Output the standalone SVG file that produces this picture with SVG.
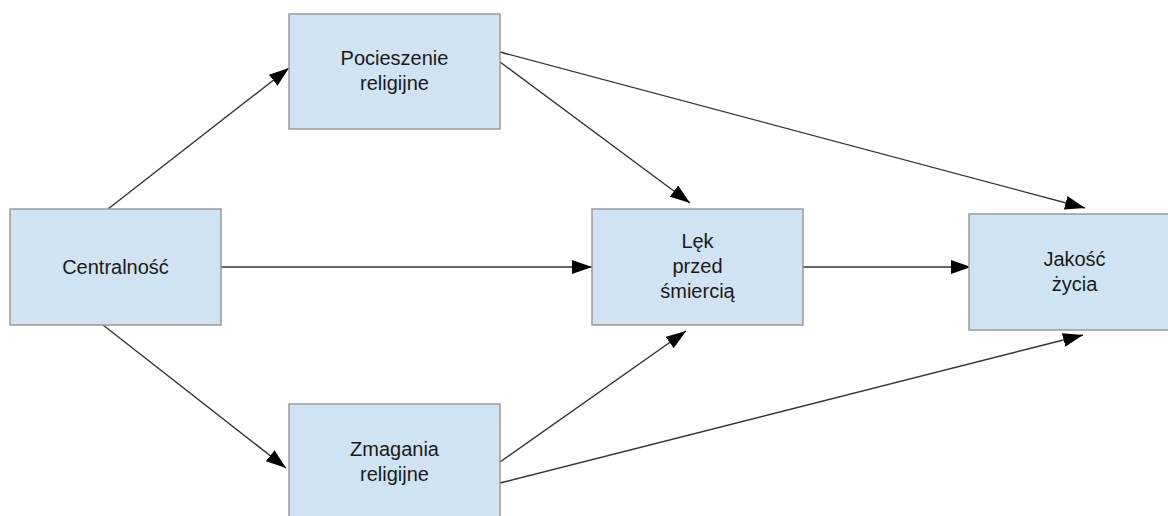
<svg xmlns="http://www.w3.org/2000/svg" width="1168" height="516" viewBox="0 0 1168 516">
  <style>
    .box { fill: #cfe3f2; stroke: #9a9a9a; stroke-width: 1.5; }
    .lbl { font-family: "Liberation Sans", Arial, sans-serif; font-size: 20px; fill: #1a1a1a; text-anchor: middle; }
    .edge { stroke: #333; stroke-width: 1.4; fill: none; marker-end: url(#arrow); }
  </style>
  <defs>
    <marker id="arrow" markerUnits="userSpaceOnUse" markerWidth="20" markerHeight="14" refX="20" refY="7" orient="auto">
      <path d="M0,0 L20,7 L0,14 z" fill="#000"/>
    </marker>
  </defs>
  <rect width="1168" height="516" fill="#fff"/>

  <g id="connectors">
    <line class="edge" x1="108" y1="209" x2="289" y2="68"/>
    <line class="edge" x1="221" y1="267" x2="592" y2="267"/>
    <line class="edge" x1="103" y1="325" x2="286" y2="468"/>
    <line class="edge" x1="500" y1="62" x2="690" y2="203"/>
    <line class="edge" x1="500" y1="52" x2="1085" y2="208"/>
    <line class="edge" x1="803" y1="267" x2="971" y2="267"/>
    <line class="edge" x1="500" y1="462" x2="686" y2="331"/>
    <line class="edge" x1="500" y1="483" x2="1083" y2="335"/>
  </g>

  <g id="centralnosc">
    <rect class="box" x="10" y="209" width="211" height="116"/>
    <text class="lbl" x="115.5" y="274">Centralność</text>
  </g>
  <g id="pocieszenie">
    <rect class="box" x="289" y="14" width="211" height="115"/>
    <text class="lbl" x="394.5" y="65">Pocieszenie</text>
    <text class="lbl" x="394.5" y="90">religijne</text>
  </g>
  <g id="zmagania">
    <rect class="box" x="289" y="404" width="211" height="125"/>
    <text class="lbl" x="394.5" y="456">Zmagania</text>
    <text class="lbl" x="394.5" y="481">religijne</text>
  </g>
  <g id="lek">
    <rect class="box" x="592" y="209" width="211" height="116"/>
    <text class="lbl" x="697.5" y="248">Lęk</text>
    <text class="lbl" x="697.5" y="273">przed</text>
    <text class="lbl" x="697.5" y="298">śmiercią</text>
  </g>
  <g id="jakosc">
    <rect class="box" x="969" y="214" width="211" height="116"/>
    <text class="lbl" x="1074.5" y="266">Jakość</text>
    <text class="lbl" x="1074.5" y="291">życia</text>
  </g>
</svg>
